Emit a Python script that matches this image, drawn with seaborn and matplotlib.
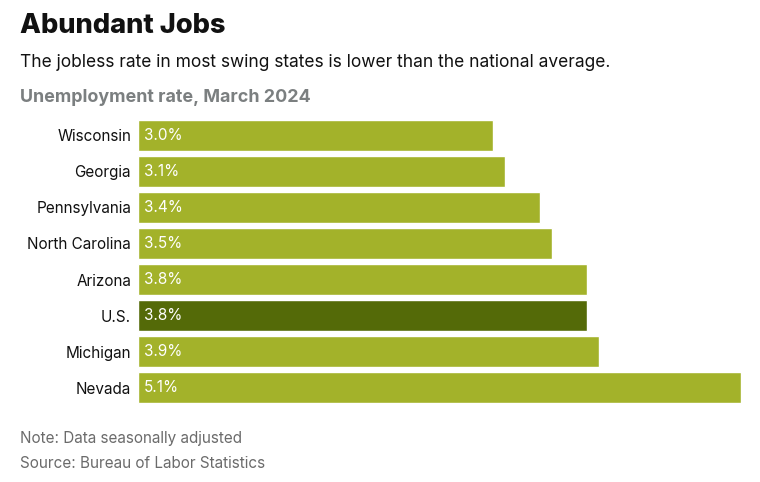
import matplotlib
matplotlib.use("Agg")
import matplotlib.pyplot as plt
import seaborn as sns
import pandas as pd

states = ["Wisconsin", "Georgia", "Pennsylvania", "North Carolina", "Arizona", "U.S.", "Michigan", "Nevada"]
rates = [3.0, 3.1, 3.4, 3.5, 3.8, 3.8, 3.9, 5.1]
value_labels = ["3.0%", "3.1%", "3.4%", "3.5%", "3.8%", "3.8%", "3.9%", "5.1%"]

LIGHT = "#a3b22a"
DARK = "#546a08"

sns.set_theme(style="white")
plt.rcParams["font.family"] = ["Inter", "DejaVu Sans"]

df = pd.DataFrame({"state": states, "rate": rates})
palette = {s: (DARK if s == "U.S." else LIGHT) for s in states}

fig = plt.figure(figsize=(7.6, 4.82), dpi=100)
ax = fig.add_axes([138/760, 1-406/482, (741-138)/760, (406-117)/482])
sns.barplot(data=df, x="rate", y="state", hue="state", palette=palette,
            order=states, legend=False, width=0.86, ax=ax, saturation=1)
ax.set_xlim(0, 5.1)
ax.set_ylim(7.5, -0.5)
ax.set_xlabel("")
ax.set_ylabel("")
ax.set_xticks([])
ax.tick_params(axis="y", length=0, pad=5, labelsize=11)
for lab in ax.get_yticklabels():
    lab.set_color("#111111")
for s in ax.spines.values():
    s.set_visible(False)

for i, (r, t) in enumerate(zip(rates, value_labels)):
    ax.text(0.05, i, t, color="white", fontsize=11, va="center", ha="left")

fig.text(20/760, 1-33/482, "Abundant Jobs", fontsize=19.6, fontweight="heavy", color="#111111", va="baseline")
fig.text(20/760, 1-67/482, "The jobless rate in most swing states is lower than the national average.",
         fontsize=12.5, color="#111111", va="baseline")
fig.text(20/760, 1-102/482, "Unemployment rate, March 2024", fontsize=12.9, fontweight="bold",
         color="#7b7f80", va="baseline")
fig.text(20/760, 1-443/482, "Note: Data seasonally adjusted", fontsize=11, color="#6b6b6b", va="baseline")
fig.text(20/760, 1-468/482, "Source: Bureau of Labor Statistics", fontsize=11, color="#6b6b6b", va="baseline")

fig.savefig("out.png", dpi=100, facecolor="white")
